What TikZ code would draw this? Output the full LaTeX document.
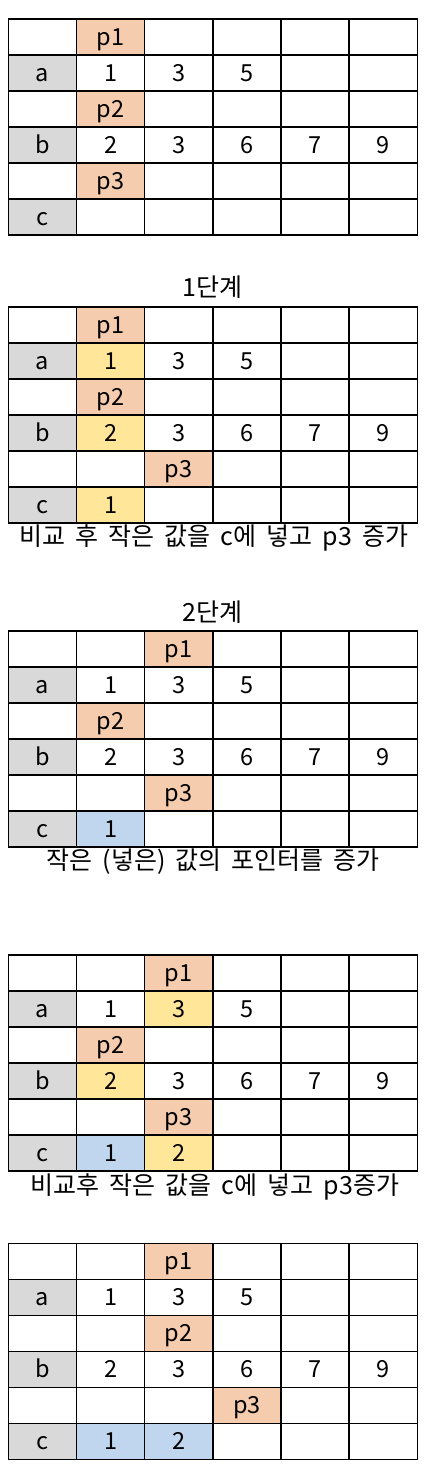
\documentclass[tikz,border=0pt]{standalone}
\usepackage{fontspec}
\setmainfont{Noto Sans CJK KR}
\definecolor{peach}{HTML}{F6CCAE}
\definecolor{gold}{HTML}{FFE699}
\definecolor{pale}{HTML}{BFD6EE}
\definecolor{grey}{HTML}{D9D9D9}
\newcommand\trow[4]{%
  \foreach[count=\c] \s/\t in {#4} {%
    \node[cell,\s] (#1r#3c\c) at ({8.3+68.17*(\c-0.5)},{#2+18+36*(#3-1)}) {\t};}}
\begin{document}
\begin{tikzpicture}[x=1pt,y=-1pt,
  cell/.style={draw=black, line width=1.6pt, minimum width=68.17pt, minimum height=36pt,
    inner sep=0pt, outer sep=0pt, text height=17.2pt, text depth=0pt,
    font=\fontsize{23.5}{28}\selectfont},
  cw/.style={fill=white}, cp/.style={fill=peach}, cy/.style={fill=gold},
  cb/.style={fill=pale}, cg/.style={fill=grey},
  caption/.style={inner sep=0pt, font=\fontsize{25}{30}\selectfont,
    execute at begin node={\spaceskip=10pt\relax}}]
\useasboundingbox[fill=white] (0,0) rectangle (442,1478);
% table 1
\trow{a}{19}{1}{cw/{},cp/p1,cw/{},cw/{},cw/{},cw/{}}
\trow{a}{19}{2}{cg/a,cw/1,cw/3,cw/5,cw/{},cw/{}}
\trow{a}{19}{3}{cw/{},cp/p2,cw/{},cw/{},cw/{},cw/{}}
\trow{a}{19}{4}{cg/b,cw/2,cw/3,cw/6,cw/7,cw/9}
\trow{a}{19}{5}{cw/{},cp/p3,cw/{},cw/{},cw/{},cw/{}}
\trow{a}{19}{6}{cg/c,cw/{},cw/{},cw/{},cw/{},cw/{}}
% table 2
\node[caption] (title1) at (212.8,287) {1단계};
\trow{b}{306.7}{1}{cw/{},cp/p1,cw/{},cw/{},cw/{},cw/{}}
\trow{b}{306.7}{2}{cg/a,cy/1,cw/3,cw/5,cw/{},cw/{}}
\trow{b}{306.7}{3}{cw/{},cp/p2,cw/{},cw/{},cw/{},cw/{}}
\trow{b}{306.7}{4}{cg/b,cy/2,cw/3,cw/6,cw/7,cw/9}
\trow{b}{306.7}{5}{cw/{},cw/{},cp/p3,cw/{},cw/{},cw/{}}
\trow{b}{306.7}{6}{cg/c,cy/1,cw/{},cw/{},cw/{},cw/{}}
\node[caption] (cap1) at (214,538) {비교 후 작은 값을 c에 넣고 p3 증가};
% table 3
\node[caption] (title2) at (212.8,611.7) {2단계};
\trow{c}{631}{1}{cw/{},cw/{},cp/p1,cw/{},cw/{},cw/{}}
\trow{c}{631}{2}{cg/a,cw/1,cw/3,cw/5,cw/{},cw/{}}
\trow{c}{631}{3}{cw/{},cp/p2,cw/{},cw/{},cw/{},cw/{}}
\trow{c}{631}{4}{cg/b,cw/2,cw/3,cw/6,cw/7,cw/9}
\trow{c}{631}{5}{cw/{},cw/{},cp/p3,cw/{},cw/{},cw/{}}
\trow{c}{631}{6}{cg/c,cb/1,cw/{},cw/{},cw/{},cw/{}}
\node[caption] (cap2) at (213,861.7) {작은 (넣은) 값의 포인터를 증가};
% table 4
\trow{d}{954.7}{1}{cw/{},cw/{},cp/p1,cw/{},cw/{},cw/{}}
\trow{d}{954.7}{2}{cg/a,cw/1,cy/3,cw/5,cw/{},cw/{}}
\trow{d}{954.7}{3}{cw/{},cp/p2,cw/{},cw/{},cw/{},cw/{}}
\trow{d}{954.7}{4}{cg/b,cy/2,cw/3,cw/6,cw/7,cw/9}
\trow{d}{954.7}{5}{cw/{},cw/{},cp/p3,cw/{},cw/{},cw/{}}
\trow{d}{954.7}{6}{cg/c,cb/1,cy/2,cw/{},cw/{},cw/{}}
\node[caption] (cap3) at (215,1186.7) {비교후 작은 값을 c에 넣고 p3증가};
% table 5
\trow{e}{1243.3}{1}{cw/{},cw/{},cp/p1,cw/{},cw/{},cw/{}}
\trow{e}{1243.3}{2}{cg/a,cw/1,cw/3,cw/5,cw/{},cw/{}}
\trow{e}{1243.3}{3}{cw/{},cw/{},cp/p2,cw/{},cw/{},cw/{}}
\trow{e}{1243.3}{4}{cg/b,cw/2,cw/3,cw/6,cw/7,cw/9}
\trow{e}{1243.3}{5}{cw/{},cw/{},cw/{},cp/p3,cw/{},cw/{}}
\trow{e}{1243.3}{6}{cg/c,cb/1,cb/2,cw/{},cw/{},cw/{}}
\end{tikzpicture}
\end{document}
